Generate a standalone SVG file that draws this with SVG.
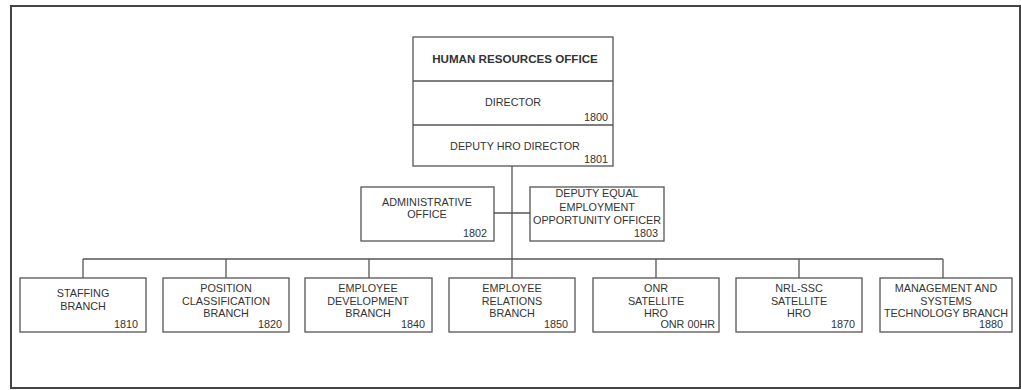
<svg xmlns="http://www.w3.org/2000/svg" width="1021" height="390" viewBox="0 0 1021 390">
<style>
.box{fill:#fff;stroke:#555;stroke-width:1.3}
.ln{stroke:#555;stroke-width:1.3;fill:none}
text{font-family:"Liberation Sans",Arial,sans-serif;font-size:10.8px;fill:#333}
.c{text-anchor:middle}
.r{text-anchor:end}
.t{font-weight:bold;font-size:11.6px}
</style>
<rect x="0" y="0" width="1021" height="390" fill="#fff"/>
<rect x="11" y="6" width="1009" height="382" fill="none" stroke="#444" stroke-width="2"/>
<g id="connectors" class="ln">
<line x1="512" y1="166" x2="512" y2="259"/>
<line x1="494" y1="213" x2="530" y2="213"/>
<line x1="83" y1="259" x2="943" y2="259"/>
<line x1="83" y1="259" x2="83" y2="278"/>
<line x1="226" y1="259" x2="226" y2="278"/>
<line x1="369" y1="259" x2="369" y2="278"/>
<line x1="512" y1="259" x2="512" y2="278"/>
<line x1="656" y1="259" x2="656" y2="278"/>
<line x1="799" y1="259" x2="799" y2="278"/>
<line x1="943" y1="259" x2="943" y2="278"/>
</g>
<g id="hro">
<rect class="box" x="413" y="37" width="200" height="129"/>
<line class="ln" x1="413" y1="81" x2="613" y2="81"/>
<line class="ln" x1="413" y1="125" x2="613" y2="125"/>
<text class="c t" x="515" y="63">HUMAN RESOURCES OFFICE</text>
<text class="c" x="513" y="106">DIRECTOR</text>
<text class="r" x="608" y="121">1800</text>
<text class="c" x="515" y="150">DEPUTY HRO DIRECTOR</text>
<text class="r" x="608" y="163">1801</text>
</g>
<g id="admin">
<rect class="box" x="361" y="187" width="133" height="54"/>
<text class="c" x="427" y="206">ADMINISTRATIVE</text>
<text class="c" x="427" y="218">OFFICE</text>
<text class="r" x="487" y="237">1802</text>
</g>
<g id="eeo">
<rect class="box" x="530" y="187" width="134" height="54"/>
<text class="c" x="597" y="197">DEPUTY EQUAL</text>
<text class="c" x="597" y="211">EMPLOYMENT</text>
<text class="c" x="597" y="224">OPPORTUNITY OFFICER</text>
<text class="r" x="658" y="237">1803</text>
</g>
<g id="staffing">
<rect class="box" x="20" y="278" width="126" height="54"/>
<text class="c" x="83" y="297">STAFFING</text>
<text class="c" x="83" y="310">BRANCH</text>
<text class="r" x="138" y="328">1810</text>
</g>
<g id="position">
<rect class="box" x="163" y="278" width="126" height="54"/>
<text class="c" x="226" y="292">POSITION</text>
<text class="c" x="226" y="305">CLASSIFICATION</text>
<text class="c" x="226" y="317">BRANCH</text>
<text class="r" x="282" y="328">1820</text>
</g>
<g id="empdev">
<rect class="box" x="305" y="278" width="127" height="54"/>
<text class="c" x="368" y="292">EMPLOYEE</text>
<text class="c" x="368" y="305">DEVELOPMENT</text>
<text class="c" x="368" y="317">BRANCH</text>
<text class="r" x="425" y="328">1840</text>
</g>
<g id="emprel">
<rect class="box" x="449" y="278" width="126" height="54"/>
<text class="c" x="512" y="292">EMPLOYEE</text>
<text class="c" x="512" y="305">RELATIONS</text>
<text class="c" x="512" y="317">BRANCH</text>
<text class="r" x="568" y="328">1850</text>
</g>
<g id="onr">
<rect class="box" x="593" y="278" width="126" height="54"/>
<text class="c" x="656" y="292">ONR</text>
<text class="c" x="656" y="305">SATELLITE</text>
<text class="c" x="656" y="317">HRO</text>
<text class="r" x="715" y="328">ONR 00HR</text>
</g>
<g id="nrlssc">
<rect class="box" x="736" y="278" width="126" height="54"/>
<text class="c" x="799" y="292">NRL-SSC</text>
<text class="c" x="799" y="305">SATELLITE</text>
<text class="c" x="799" y="317">HRO</text>
<text class="r" x="855" y="328">1870</text>
</g>
<g id="mgmt">
<rect class="box" x="880" y="278" width="132" height="54"/>
<text class="c" x="946" y="292">MANAGEMENT AND</text>
<text class="c" x="946" y="305">SYSTEMS</text>
<text class="c" x="946" y="317">TECHNOLOGY BRANCH</text>
<text class="r" x="1003" y="328">1880</text>
</g>
</svg>
